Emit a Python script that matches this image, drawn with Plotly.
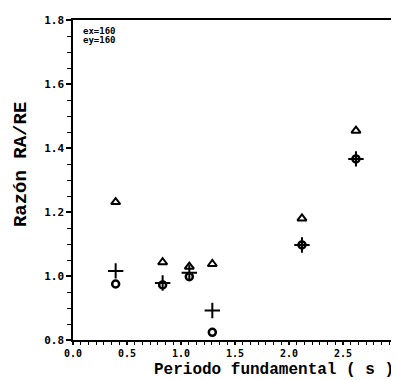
import plotly.graph_objects as go

periodo = [0.395, 0.83, 1.077, 1.29, 2.12, 2.62]
razon_tri = [1.231, 1.043, 1.029, 1.0375, 1.180, 1.454]
razon_plus = [1.016, 0.978, 1.010, 0.892, 1.097, 1.366]
razon_circ = [0.975, 0.972, 0.998, 0.824, 1.097, 1.366]

x_ticks = [0.0, 0.5, 1.0, 1.5, 2.0, 2.5, 3.0]
x_ticklabels = ["0.0", "0.5", "1.0", "1.5", "2.0", "2.5", "3."]
y_ticks = [0.8, 1.0, 1.2, 1.4, 1.6, 1.8]
y_ticklabels = ["0.8", "1.0", "1.2", "1.4", "1.6", "1.8"]

fig = go.Figure()
fig.add_trace(go.Scatter(x=periodo, y=razon_tri, mode="markers",
                         marker=dict(symbol="triangle-up-open", size=8, color="black",
                                     line=dict(width=2, color="black"))))
fig.add_trace(go.Scatter(x=periodo, y=razon_plus, mode="markers",
                         marker=dict(symbol="cross-thin-open", size=11, color="black",
                                     line=dict(width=2, color="black"))))
fig.add_trace(go.Scatter(x=periodo, y=razon_circ, mode="markers",
                         marker=dict(symbol="circle-open", size=7, color="black",
                                     line=dict(width=2.5, color="black"))))

fig.update_xaxes(range=[0, 3.0], tickmode="array", tickvals=x_ticks, ticktext=x_ticklabels,
                 showline=True, linecolor="black", linewidth=1.5, mirror=True,
                 ticks="outside", ticklen=3, tickwidth=1.5, tickcolor="black",
                 minor=dict(dtick=1/14, tick0=0, ticks="outside", ticklen=3, tickwidth=1.2,
                            tickcolor="black", showgrid=False),
                 showgrid=False, zeroline=False, automargin=False,
                 tickfont=dict(family="DejaVu Sans Mono", size=10, color="black", weight="bold"))
fig.update_yaxes(range=[0.8, 1.8], tickmode="array", tickvals=y_ticks, ticktext=y_ticklabels,
                 showline=True, linecolor="black", linewidth=1.5, mirror=True,
                 ticks="outside", ticklen=5, tickwidth=1.5, tickcolor="black",
                 minor=dict(dtick=0.05, tick0=0.8, ticks="outside", ticklen=4, tickwidth=1.2,
                            tickcolor="black", showgrid=False),
                 showgrid=False, zeroline=False, automargin=False,
                 tickfont=dict(family="DejaVu Sans Mono", size=11, color="black", weight="bold"))

titlefont = dict(family="Liberation Mono, Courier New, monospace", size=16, color="black", weight="bold")
fig.add_annotation(x=-0.16, y=0.547, xref="paper", yref="paper", xanchor="center", yanchor="middle",
                   text="Razón RA/RE", showarrow=False, textangle=-90,
                   font=dict(family="Liberation Mono, Courier New, monospace", size=19,
                             color="black", weight="bold"))
fig.add_annotation(x=0.994, y=-0.125, xref="paper", yref="paper", xanchor="right", yanchor="bottom",
                   text="Periodo fundamental ( s )", showarrow=False, font=titlefont, borderpad=0)
legfont = dict(family="DejaVu Sans Mono", size=9, color="black", weight="bold")
fig.add_annotation(x=0.0247, y=0.9656, xref="paper", yref="paper", xanchor="left", yanchor="middle",
                   text="ex=160", showarrow=False, font=legfont)
fig.add_annotation(x=0.0247, y=0.9375, xref="paper", yref="paper", xanchor="left", yanchor="middle",
                   text="ey=160", showarrow=False, font=legfont)

fig.update_layout(width=399, height=380, margin=dict(l=65, r=10, t=12, b=48),
                  paper_bgcolor="white", plot_bgcolor="white", showlegend=False)

fig.write_html("out.html")
